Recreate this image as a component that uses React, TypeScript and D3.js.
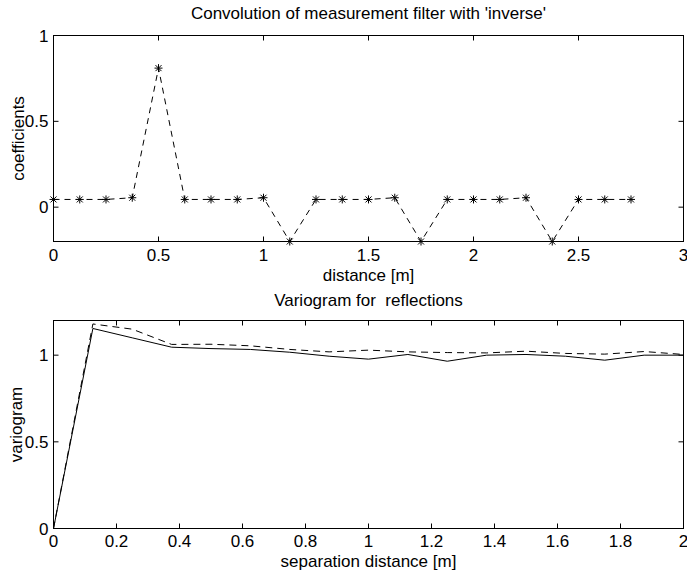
import React from "react";
import * as d3 from "d3";

const topTitle = "Convolution of measurement filter with 'inverse'";
const topXLabel = "distance [m]";
const topYLabel = "coefficients";
const topX = [0, 0.125, 0.25, 0.375, 0.5, 0.625, 0.75, 0.875, 1.0, 1.125, 1.25, 1.375, 1.5, 1.625, 1.75, 1.875, 2.0, 2.125, 2.25, 2.375, 2.5, 2.625, 2.75];
const topY = [0.045, 0.045, 0.045, 0.055, 0.81, 0.045, 0.045, 0.045, 0.055, -0.2, 0.045, 0.045, 0.045, 0.055, -0.2, 0.045, 0.045, 0.045, 0.055, -0.2, 0.045, 0.045, 0.045];
const topXTicks = [0, 0.5, 1, 1.5, 2, 2.5, 3];
const topYTicks = [0, 0.5, 1];

const botTitle = "Variogram for  reflections";
const botXLabel = "separation distance [m]";
const botYLabel = "variogram";
const lagX = [0, 0.125, 0.25, 0.375, 0.5, 0.625, 0.75, 0.875, 1.0, 1.125, 1.25, 1.375, 1.5, 1.625, 1.75, 1.875, 2.0];
const solidY = [0, 1.154, 1.1, 1.046, 1.038, 1.033, 1.017, 0.994, 0.977, 1.004, 0.965, 1.0, 1.004, 0.994, 0.971, 1.0, 1.0];
const dashedY = [0, 1.18, 1.15, 1.062, 1.063, 1.054, 1.033, 1.019, 1.029, 1.019, 1.015, 1.013, 1.023, 1.01, 1.006, 1.021, 1.004];
const botXTicks = [0, 0.2, 0.4, 0.6, 0.8, 1, 1.2, 1.4, 1.6, 1.8, 2];
const botYTicks = [0, 0.5, 1];

const FONT = "'Liberation Sans', Arial, Helvetica, sans-serif";
const FS = 17;
const TICK = 5;

type AxesProps = {
  x: d3.ScaleLinear<number, number>;
  y: d3.ScaleLinear<number, number>;
  xTicks: number[];
  yTicks: number[];
  title: string;
  xLabel: string;
  yLabel: string;
  titleY: number;
  xTickLabelY: number;
  xLabelY: number;
  yLabelX: number;
  children?: React.ReactNode;
};

function Axes({ x, y, xTicks, yTicks, title, xLabel, yLabel, titleY, xTickLabelY, xLabelY, yLabelX, children }: AxesProps) {
  const [x0, x1] = x.range();
  const [y0, y1] = y.range();
  const cx = (x0 + x1) / 2;
  const cy = (y0 + y1) / 2;
  return (
    <g>
      {children}
      <rect x={x0} y={y1} width={x1 - x0} height={y0 - y1} fill="none" stroke="#000" strokeWidth={1} />
      {xTicks.map((t) => (
        <g key={"xt" + t}>
          <line x1={x(t)} x2={x(t)} y1={y0} y2={y0 - TICK} stroke="#000" />
          <line x1={x(t)} x2={x(t)} y1={y1} y2={y1 + TICK} stroke="#000" />
          <text x={x(t)} y={xTickLabelY} textAnchor="middle" fontSize={FS} fontFamily={FONT}>{String(t)}</text>
        </g>
      ))}
      {yTicks.map((t) => (
        <g key={"yt" + t}>
          <line x1={x0} x2={x0 + TICK} y1={y(t)} y2={y(t)} stroke="#000" />
          <line x1={x1} x2={x1 - TICK} y1={y(t)} y2={y(t)} stroke="#000" />
          <text x={x0 - 5} y={y(t)} dy="0.36em" textAnchor="end" fontSize={FS} fontFamily={FONT}>{String(t)}</text>
        </g>
      ))}
      <text x={cx} y={titleY} textAnchor="middle" fontSize={FS} fontFamily={FONT} style={{ whiteSpace: "pre" }}>{title}</text>
      <text x={cx} y={xLabelY} textAnchor="middle" fontSize={FS} fontFamily={FONT}>{xLabel}</text>
      <text transform={`translate(${yLabelX},${cy}) rotate(-90)`} textAnchor="middle" fontSize={FS} fontFamily={FONT}>{yLabel}</text>
    </g>
  );
}

export default function App() {
  const xT = d3.scaleLinear().domain([0, 3]).range([53.5, 683.5]);
  const yT = d3.scaleLinear().domain([-0.2, 1]).range([241.5, 35.5]);
  const xB = d3.scaleLinear().domain([0, 2]).range([53.5, 683.5]);
  const yB = d3.scaleLinear().domain([0, 1.2]).range([528.5, 320.5]);

  const topPts = topX.map((v, i) => [v, topY[i]] as [number, number]);
  const lineT = d3.line<[number, number]>().x((d) => xT(d[0])).y((d) => yT(d[1]));
  const solidPts = lagX.map((v, i) => [v, solidY[i]] as [number, number]);
  const dashedPts = lagX.map((v, i) => [v, dashedY[i]] as [number, number]);
  const lineB = d3.line<[number, number]>().x((d) => xB(d[0])).y((d) => yB(d[1]));

  const m = 4;
  const md = 3;

  return (
    <svg width={687} height={573} style={{ position: "absolute", left: 0, top: 0, background: "#fff" }}>
      <rect x={0} y={0} width={687} height={573} fill="#fff" />
      <Axes x={xT} y={yT} xTicks={topXTicks} yTicks={topYTicks} title={topTitle} xLabel={topXLabel} yLabel={topYLabel}
        titleY={19} xTickLabelY={261} xLabelY={280.5} yLabelX={24}>
        <path d={lineT(topPts) || ""} fill="none" stroke="#000" strokeWidth={1} strokeDasharray="6 5" />
        {topPts.map((d, i) => {
          const px = xT(d[0]);
          const py = yT(d[1]);
          return (
            <g key={"m" + i} stroke="#000" strokeWidth={1}>
              <line x1={px - m} x2={px + m} y1={py} y2={py} />
              <line x1={px} x2={px} y1={py - m} y2={py + m} />
              <line x1={px - md} x2={px + md} y1={py - md} y2={py + md} />
              <line x1={px - md} x2={px + md} y1={py + md} y2={py - md} />
            </g>
          );
        })}
      </Axes>
      <Axes x={xB} y={yB} xTicks={botXTicks} yTicks={botYTicks} title={botTitle} xLabel={botXLabel} yLabel={botYLabel}
        titleY={306} xTickLabelY={547} xLabelY={566.5} yLabelX={22}>
        <path d={lineB(dashedPts) || ""} fill="none" stroke="#000" strokeWidth={1} strokeDasharray="7 5" />
        <path d={lineB(solidPts) || ""} fill="none" stroke="#000" strokeWidth={1} />
      </Axes>
    </svg>
  );
}
